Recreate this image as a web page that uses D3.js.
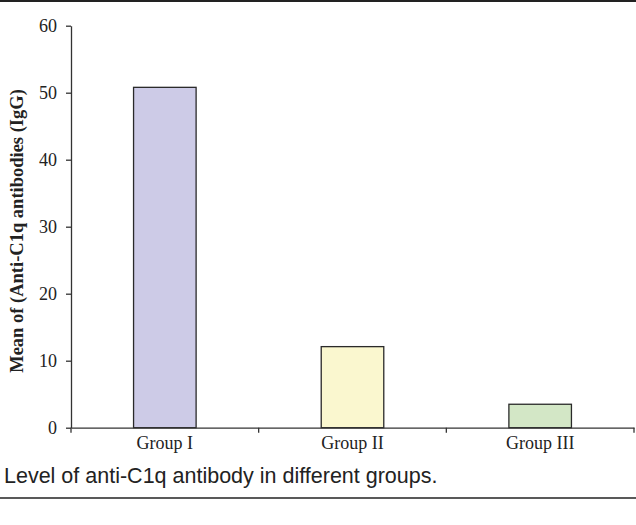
<!DOCTYPE html>
<html><head><meta charset="utf-8">
<script src="https://cdn.jsdelivr.net/npm/d3@7"></script>
<style>body{margin:0;background:#fff}svg{display:block}</style>
</head><body>
<script>
const categories = ["Group I", "Group II", "Group III"];
const values = [50.8, 12.1, 3.5];
const colors = ["#cdcbe7", "#faf7cf", "#d3e7c6"];
const yTicks = [0, 10, 20, 30, 40, 50, 60];
const yLabel = "Mean of (Anti-C1q antibodies (IgG)";
const caption = "Level of anti-C1q antibody in different groups.";

(function () {
const W = 636, H = 525;
const svg = d3.select("body").append("svg").attr("width", W).attr("height", H);
const mLeft = 71, mRight = 634, mTop = 25.7, mBottom = 427.7;
const serif = "Liberation Serif, Times New Roman, serif";

const x = d3.scaleBand().domain(categories).range([mLeft, mRight]).paddingInner(0).paddingOuter(0);
const y = d3.scaleLinear().domain([0, 60]).range([mBottom, mTop]);

svg.append("line").attr("x1", 0).attr("x2", W).attr("y1", 1).attr("y2", 1)
  .attr("stroke", "#222").attr("stroke-width", 2);
svg.append("line").attr("x1", 0).attr("x2", W).attr("y1", 498).attr("y2", 498)
  .attr("stroke", "#222").attr("stroke-width", 1.5);

const bw = x.bandwidth() / 3;
svg.selectAll("rect.bar").data(values).enter().append("rect")
  .attr("class", "bar")
  .attr("x", (d, i) => x(categories[i]) + x.bandwidth() / 2 - bw / 2)
  .attr("width", bw)
  .attr("y", d => y(d))
  .attr("height", d => y(0) - y(d))
  .attr("fill", (d, i) => colors[i])
  .attr("stroke", "#2a2a2a").attr("stroke-width", 1.3);

const ya = svg.append("g").attr("transform", `translate(${mLeft},0)`)
  .call(d3.axisLeft(y).tickValues(yTicks).tickSize(5).tickPadding(9).tickSizeOuter(0));
ya.select(".domain").attr("stroke", "#333").attr("stroke-width", 1.3);
ya.selectAll(".tick line").attr("stroke", "#333").attr("stroke-width", 1.3);
ya.selectAll("text").attr("font-family", serif)
  .attr("font-size", 18).attr("fill", "#222");

const xa = svg.append("g").attr("transform", `translate(0,${mBottom})`)
  .call(d3.axisBottom(x).tickSize(0).tickPadding(9).tickSizeOuter(0));
xa.select(".domain").attr("stroke", "#333").attr("stroke-width", 1.3);
xa.selectAll("text").attr("font-family", serif)
  .attr("font-size", 18).attr("fill", "#222");
const bounds = categories.map(c => x(c)).concat([mRight]);
xa.selectAll("line.bt").data(bounds).enter().append("line").attr("class", "bt")
  .attr("x1", d => d).attr("x2", d => d).attr("y1", 0).attr("y2", 5)
  .attr("stroke", "#333").attr("stroke-width", 1.3);

svg.append("text")
  .attr("transform", `translate(23,231) rotate(-90)`)
  .attr("text-anchor", "middle")
  .attr("font-family", serif)
  .attr("font-weight", "bold").attr("font-size", 18.5).attr("fill", "#222")
  .text(yLabel);

svg.append("text").attr("x", 4).attr("y", 483)
  .attr("font-family", "Liberation Sans, Arial, sans-serif")
  .attr("font-size", 21.5).attr("fill", "#222")
  .text(caption);
})();
</script>
</body></html>
